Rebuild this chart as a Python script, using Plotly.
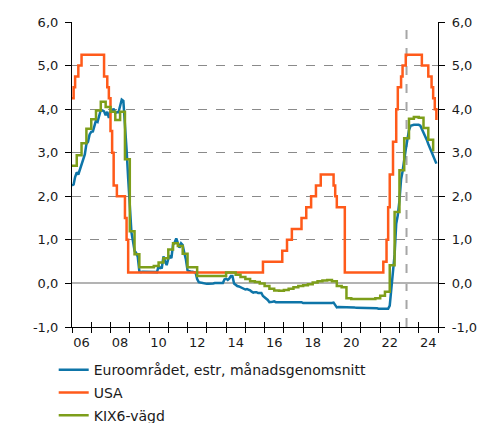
import pandas as pd
import plotly.graph_objects as go

# ---------------- data ----------------
month_start = "2006-01-01"
n_months = 228
quarter_start = "2006-01-01"
n_quarters = 76

euro = [
    2.25, 2.27, 2.44, 2.55, 2.50, 2.62, 2.73, 2.89, 2.96, 3.20, 3.25, 3.42,
    3.48, 3.49, 3.61, 3.74, 3.71, 3.88, 3.98, 3.97, 3.95, 3.86, 3.94, 3.80,
    3.94, 3.95, 4.01, 3.91, 3.93, 3.93, 4.11, 4.22, 4.19, 3.74, 3.07, 2.41,
    1.73, 1.17, 0.98, 0.75, 0.70, 0.61, 0.28, 0.26, 0.27, 0.27, 0.27, 0.26,
    0.26, 0.26, 0.26, 0.26, 0.26, 0.26, 0.40, 0.35, 0.36, 0.62, 0.51, 0.42,
    0.57, 0.62, 0.58, 0.89, 0.94, 1.03, 0.93, 0.82, 0.92, 0.88, 0.70, 0.55,
    0.30, 0.28, 0.27, 0.27, 0.26, 0.25, 0.10, 0.03, 0.02, 0.01, 0.00, -0.01,
    -0.01, -0.01, -0.01, 0.00, 0.00, 0.01, 0.01, 0.00, 0.00, 0.01, 0.01, 0.09,
    0.11, 0.08, 0.11, 0.17, 0.17, 0.00, -0.04, -0.06, -0.07, -0.09, -0.10, -0.12,
    -0.14, -0.13, -0.14, -0.16, -0.19, -0.21, -0.20, -0.20, -0.22, -0.22, -0.22, -0.29,
    -0.32, -0.33, -0.38, -0.43, -0.43, -0.42, -0.41, -0.43, -0.43, -0.43, -0.43, -0.43,
    -0.43, -0.44, -0.44, -0.44, -0.44, -0.44, -0.44, -0.44, -0.44, -0.44, -0.44, -0.43,
    -0.45, -0.45, -0.45, -0.45, -0.45, -0.45, -0.45, -0.45, -0.45, -0.45, -0.45, -0.45,
    -0.45, -0.45, -0.45, -0.45, -0.46, -0.45, -0.45, -0.44, -0.49, -0.55, -0.54, -0.54,
    -0.54, -0.54, -0.54, -0.54, -0.54, -0.54, -0.54, -0.55, -0.55, -0.56, -0.56, -0.56,
    -0.56, -0.56, -0.56, -0.57, -0.57, -0.57, -0.57, -0.57, -0.57, -0.57, -0.57, -0.58,
    -0.58, -0.58, -0.58, -0.58, -0.59, -0.58, -0.51, -0.09, 0.35, 0.66, 1.37, 1.57,
    1.90, 2.39, 2.57, 2.90, 3.08, 3.30, 3.52, 3.62, 3.64, 3.64, 3.64, 3.64,
    3.64, 3.62, 3.55, 3.45, 3.38, 3.30, 3.20, 3.10, 3.00, 2.92, 2.83, 2.75,
]

usa = [
    4.25, 4.50, 4.75, 4.75, 5.00, 5.00, 5.25, 5.25, 5.25, 5.25, 5.25, 5.25,
    5.25, 5.25, 5.25, 5.25, 5.25, 5.25, 5.25, 5.25, 4.75, 4.75, 4.50, 4.25,
    3.50, 3.00, 2.25, 2.25, 2.00, 2.00, 2.00, 2.00, 2.00, 1.50, 1.00, 0.25,
    0.25, 0.25, 0.25, 0.25, 0.25, 0.25, 0.25, 0.25, 0.25, 0.25, 0.25, 0.25,
    0.25, 0.25, 0.25, 0.25, 0.25, 0.25, 0.25, 0.25, 0.25, 0.25, 0.25, 0.25,
    0.25, 0.25, 0.25, 0.25, 0.25, 0.25, 0.25, 0.25, 0.25, 0.25, 0.25, 0.25,
    0.25, 0.25, 0.25, 0.25, 0.25, 0.25, 0.25, 0.25, 0.25, 0.25, 0.25, 0.25,
    0.25, 0.25, 0.25, 0.25, 0.25, 0.25, 0.25, 0.25, 0.25, 0.25, 0.25, 0.25,
    0.25, 0.25, 0.25, 0.25, 0.25, 0.25, 0.25, 0.25, 0.25, 0.25, 0.25, 0.25,
    0.25, 0.25, 0.25, 0.25, 0.25, 0.25, 0.25, 0.25, 0.25, 0.25, 0.25, 0.50,
    0.50, 0.50, 0.50, 0.50, 0.50, 0.50, 0.50, 0.50, 0.50, 0.50, 0.50, 0.75,
    0.75, 0.75, 1.00, 1.00, 1.00, 1.25, 1.25, 1.25, 1.25, 1.25, 1.25, 1.50,
    1.50, 1.50, 1.75, 1.75, 1.75, 2.00, 2.00, 2.00, 2.25, 2.25, 2.25, 2.50,
    2.50, 2.50, 2.50, 2.50, 2.50, 2.50, 2.50, 2.25, 2.00, 1.75, 1.75, 1.75,
    1.75, 1.75, 0.25, 0.25, 0.25, 0.25, 0.25, 0.25, 0.25, 0.25, 0.25, 0.25,
    0.25, 0.25, 0.25, 0.25, 0.25, 0.25, 0.25, 0.25, 0.25, 0.25, 0.25, 0.25,
    0.25, 0.25, 0.50, 0.50, 1.00, 1.75, 2.50, 2.50, 3.25, 3.25, 4.00, 4.50,
    4.50, 4.75, 5.00, 5.00, 5.25, 5.25, 5.25, 5.25, 5.25, 5.25, 5.25, 5.25,
    5.25, 5.25, 5.00, 5.00, 5.00, 5.00, 4.75, 4.75, 4.50, 4.25, 4.00, 3.75,
]

kix6 = [
    2.70, 2.94, 3.22, 3.55,
    3.77, 3.97, 4.17, 4.05,
    3.94, 3.75, 3.94, 2.85,
    1.20, 0.67, 0.37, 0.37,
    0.37, 0.40, 0.48, 0.58,
    0.78, 0.92, 0.86, 0.68,
    0.37, 0.37, 0.17, 0.17,
    0.17, 0.17, 0.17, 0.17,
    0.25, 0.25, 0.20, 0.15,
    0.10, 0.05, 0.03, 0.00,
    -0.06, -0.12, -0.16, -0.17,
    -0.15, -0.12, -0.09, -0.06,
    -0.04, -0.02, 0.02, 0.05,
    0.07, 0.08, 0.05, -0.06,
    -0.09, -0.34, -0.36, -0.36,
    -0.36, -0.36, -0.36, -0.34,
    -0.28, -0.19, 0.42, 1.64,
    2.60, 3.33, 3.78, 3.82,
    3.80, 3.57, 3.30, 3.03,
]

names = ["Euroområdet, estr, månadsgenomsnitt", "USA", "KIX6-vägd"]
colors = ["#0e75a8", "#ff5a1a", "#7d9e1a"]

y_ticks = [-1, 0, 1, 2, 3, 4, 5, 6]
y_ticktext = ["-1,0", "0,0", "1,0", "2,0", "3,0", "4,0", "5,0", "6,0"]
x_label_years = [2006, 2008, 2010, 2012, 2014, 2016, 2018, 2020, 2022, 2024]
x_ticktext = ["06", "08", "10", "12", "14", "16", "18", "20", "22", "24"]
x_range = ["2006-01-01", "2025-01-01"]
forecast_start = "2023-05-15"

# ---------------- figure ----------------
months = pd.date_range(month_start, periods=n_months, freq="MS")
quarters = pd.date_range(quarter_start, periods=n_quarters, freq="QS")
year_starts = [pd.Timestamp(year=y, month=1, day=1) for y in range(2006, 2026)]
label_pos = [pd.Timestamp(year=y, month=7, day=1) for y in x_label_years]

fig = go.Figure()
fig.add_trace(go.Scatter(x=months, y=euro, mode="lines", name=names[0], legendgroup="a",
                         line=dict(color=colors[0], width=2.5)))
fig.add_trace(go.Scatter(x=months, y=usa, mode="lines", name=names[1], legendgroup="b",
                         line=dict(color=colors[1], width=2.5, shape="hv")))
fig.add_trace(go.Scatter(x=quarters, y=kix6, mode="lines", name=names[2], legendgroup="c",
                         line=dict(color=colors[2], width=2.5, shape="hv")))
# empty helper traces so that the overlay axes (inner ticks, labels, right axis) are drawn
for xa, ya in (("x2", "y"), ("x3", "y"), ("x", "y2")):
    fig.add_trace(go.Scatter(x=[], y=[], xaxis=xa, yaxis=ya, mode="lines",
                             showlegend=False, hoverinfo="skip"))

fig.add_shape(type="line", xref="x", yref="y", x0=forecast_start, x1=forecast_start,
              y0=-1, y1=6, line=dict(color="#a6a6a6", width=2, dash="dash"), layer="below")

font = dict(family="DejaVu Sans, Verdana, sans-serif", size=13, color="#1a1a1a")

fig.update_layout(
    width=494, height=423,
    margin=dict(l=72, r=56, t=22, b=96, autoexpand=False),
    paper_bgcolor="white", plot_bgcolor="white",
    font=font,
    showlegend=True,
    legend=dict(orientation="v", x=-0.05, xanchor="left", y=-0.089, yanchor="top",
                font=dict(family="DejaVu Sans, Verdana, sans-serif", size=14, color="#1a1a1a"),
                traceorder="grouped", tracegroupgap=1.5, itemwidth=30,
                bgcolor="rgba(0,0,0,0)"),
    xaxis=dict(type="date", range=x_range, tickmode="array", tickvals=year_starts,
               showticklabels=False, ticks="outside", ticklen=5, tickcolor="black",
               showline=True, linecolor="black", linewidth=1.2, showgrid=False, zeroline=False),
    xaxis2=dict(type="date", range=x_range, overlaying="x", anchor="y", tickmode="array",
                tickvals=year_starts, showticklabels=False, ticks="inside", ticklen=5,
                tickcolor="black", showline=False, showgrid=False, zeroline=False),
    xaxis3=dict(type="date", range=x_range, overlaying="x", anchor="y", tickmode="array",
                tickvals=label_pos, ticktext=x_ticktext, ticks="", showline=False,
                showgrid=False, zeroline=False, ticklabelstandoff=6, tickfont=font),
    yaxis=dict(range=[-1, 6], tickmode="array", tickvals=y_ticks, ticktext=y_ticktext,
               ticks="outside", ticklen=6, tickcolor="black", showline=True,
               linecolor="black", linewidth=1.2, showgrid=True, gridcolor="#8a8a8a",
               griddash="dash", gridwidth=1, zeroline=True, zerolinecolor="#b3b3b3",
               zerolinewidth=2, ticklabelstandoff=4),
    yaxis2=dict(range=[-1, 6], overlaying="y", side="right", anchor="x", tickmode="array",
                tickvals=y_ticks, ticktext=y_ticktext, ticks="outside", ticklen=6,
                tickcolor="black", showline=True, linecolor="black", linewidth=1.2,
                showgrid=False, zeroline=False, ticklabelstandoff=4),
)

fig.write_html("out.html", config={"displayModeBar": False},
               post_script="document.body.style.margin='0';document.body.style.overflow='hidden';")
